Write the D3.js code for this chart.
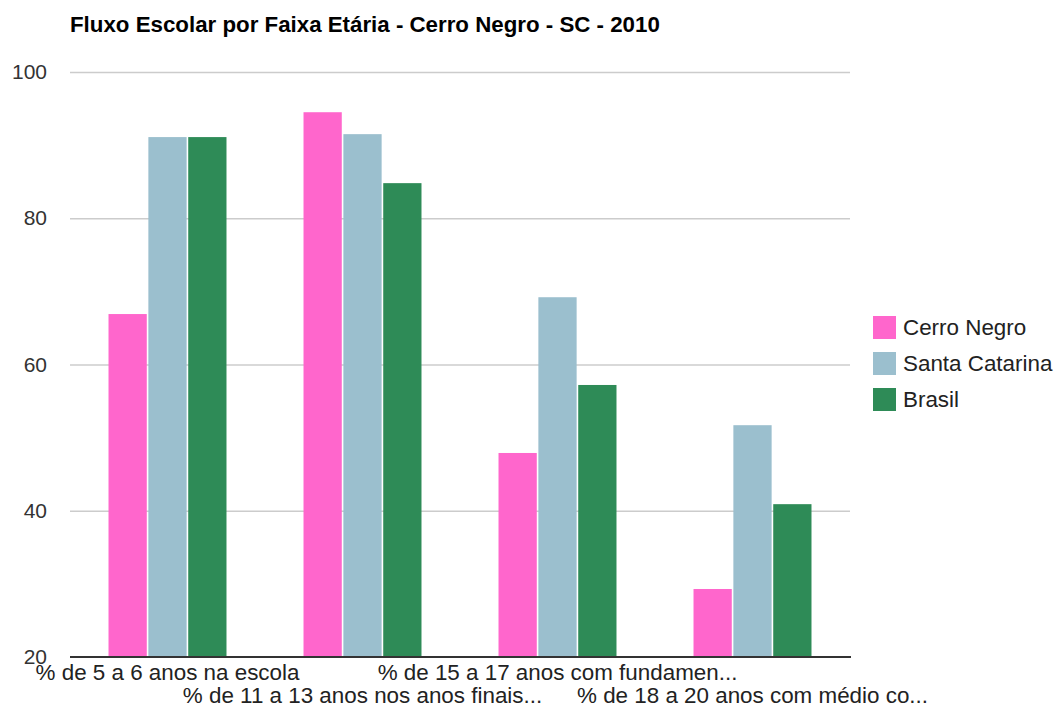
<!DOCTYPE html>
<html>
<head>
<meta charset="utf-8">
<script src="https://cdn.jsdelivr.net/npm/d3@7"></script>
<style>
  html, body { margin: 0; padding: 0; background: #fff; }
  svg { display: block; font-family: "Liberation Sans", Arial, sans-serif; }
</style>
</head>
<body>
<svg id="chart" width="1054" height="707"></svg>
<script>
const title = "Fluxo Escolar por Faixa Etária - Cerro Negro - SC - 2010";
const categories = [
  "% de 5 a 6 anos na escola",
  "% de 11 a 13 anos nos anos finais...",
  "% de 15 a 17 anos com fundamen...",
  "% de 18 a 20 anos com médio co..."
];
const seriesNames = ["Cerro Negro", "Santa Catarina", "Brasil"];
const seriesColors = ["#ff66cc", "#9bbfce", "#2e8b57"];
const cerroNegro = [66.9, 94.5, 47.9, 29.3];
const santaCatarina = [91.1, 91.5, 69.2, 51.7];
const brasil = [91.1, 84.8, 57.2, 40.9];
const yTicks = [20, 40, 60, 80, 100];

const seriesValues = [cerroNegro, santaCatarina, brasil];

const svg = d3.select("#chart");
const mLeft = 70, mRight = 850, mTop = 72, mBottom = 657;

const x0 = d3.scaleBand().domain(categories).range([mLeft, mRight])
  .paddingInner(0.395).paddingOuter(0.1975);
const x1 = d3.scaleBand().domain(seriesNames).range([0, x0.bandwidth()])
  .paddingInner(0.04).paddingOuter(0);
const y = d3.scaleLinear().domain([20, 100]).range([mBottom, mTop]);

// gridlines
const yAxis = d3.axisLeft(y).tickValues(yTicks).tickSize(-(mRight - mLeft)).tickFormat(d3.format("d")).tickPadding(23);
const gy = svg.append("g").attr("transform", `translate(${mLeft},0)`).call(yAxis);
gy.select(".domain").remove();
gy.selectAll(".tick line").attr("stroke", "#cccccc").attr("stroke-width", 1.5)
  .filter(d => d === 20).remove();
gy.selectAll(".tick text").attr("fill", "#333").style("font-size", "21px")
  .style("font-family", "'Liberation Sans', Arial, sans-serif");

// bars
const groups = svg.append("g").selectAll("g").data(categories).join("g")
  .attr("transform", d => `translate(${x0(d)},0)`);
groups.selectAll("rect")
  .data((d, i) => seriesNames.map((s, j) => ({ s, v: seriesValues[j][i], c: seriesColors[j] })))
  .join("rect")
  .attr("x", d => x1(d.s))
  .attr("width", x1.bandwidth())
  .attr("y", d => y(d.v))
  .attr("height", d => y(20) - y(d.v))
  .attr("fill", d => d.c);

// baseline
svg.append("line").attr("x1", mLeft).attr("x2", mRight + 1).attr("y1", mBottom).attr("y2", mBottom)
  .attr("stroke", "#333").attr("stroke-width", 2);

// x labels (staggered)
const xAxis = d3.axisBottom(x0).tickSize(0).tickPadding(0);
const gx = svg.append("g").attr("transform", `translate(0,${mBottom})`).call(xAxis);
gx.select(".domain").remove();
gx.selectAll(".tick text")
  .attr("fill", "#222")
  .attr("dy", null)
  .attr("y", (d, i) => i % 2 === 0 ? 23 : 46)
  .style("font-size", "22.4px")
  .style("font-family", "'Liberation Sans', Arial, sans-serif");

// title
svg.append("text").attr("x", 70).attr("y", 32).text(title)
  .style("font-size", "22.3px").style("font-weight", "bold").attr("fill", "#000");

// legend
const legend = svg.append("g").attr("transform", "translate(873,316)");
const li = legend.selectAll("g").data(seriesNames).join("g")
  .attr("transform", (d, i) => `translate(0,${i * 36})`);
li.append("rect").attr("width", 23).attr("height", 23).attr("fill", (d, i) => seriesColors[i]);
li.append("text").attr("x", 30).attr("y", 19).text(d => d)
  .style("font-size", "22.4px").attr("fill", "#222");
</script>
</body>
</html>
